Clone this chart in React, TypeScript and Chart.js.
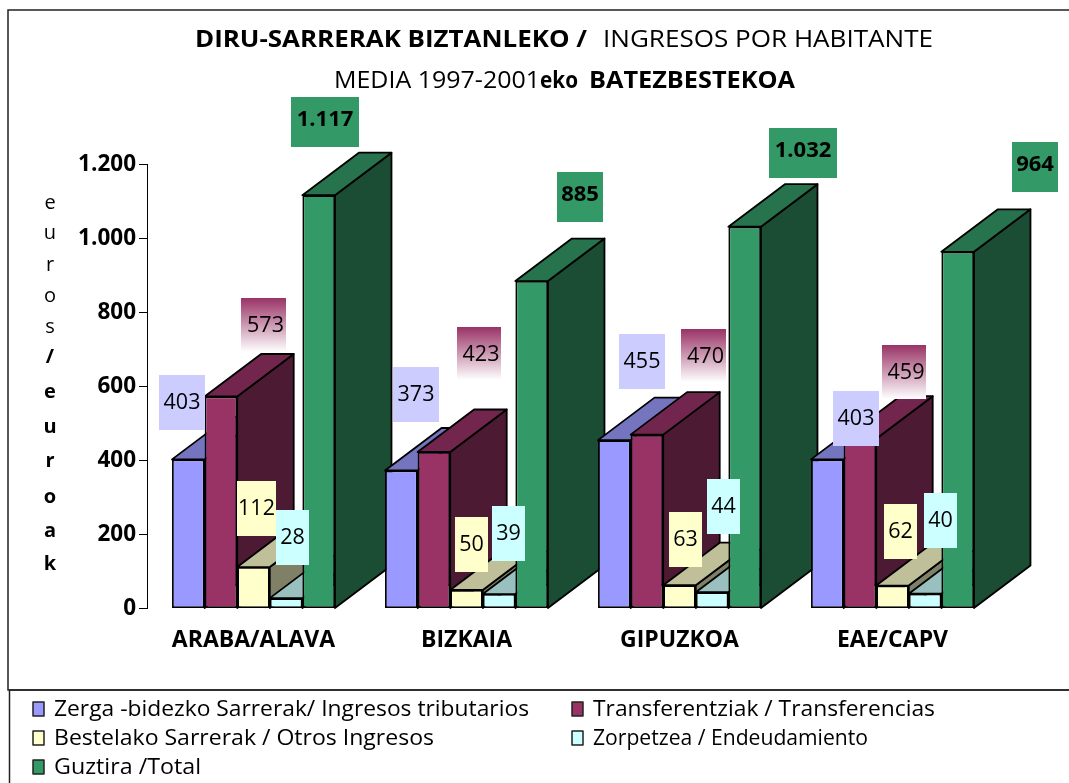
import React, { useEffect, useRef } from "react";
import { Chart, registerables } from "chart.js";

Chart.register(...registerables);

const categories = ["ARABA/ALAVA", "BIZKAIA", "GIPUZKOA", "EAE/CAPV"];
const tributarios = [403, 373, 455, 403];
const transferencias = [573, 423, 470, 459];
const otros = [112, 50, 63, 62];
const endeudamiento = [28, 39, 44, 40];
const total = [1117, 885, 1032, 964];
const yTickLabels = ["0", "200", "400", "600", "800", "1.000", "1.200"];
const seriesNames = [
  "Zerga -bidezko Sarrerak/ Ingresos tributarios",
  "Transferentziak / Transferencias",
  "Bestelako Sarrerak / Otros Ingresos",
  "Zorpetzea / Endeudamiento",
  "Guztira /Total",
];

const FONT = '"Open Sans"';
const INK = "#000000";
const series = [
  { data: tributarios, front: "#9999FF", top: "#7474BF", side: "#4D4D80" },
  { data: transferencias, front: "#993366", top: "#73264D", side: "#4D1A33" },
  { data: otros, front: "#FFFFCC", top: "#BFBF99", side: "#808066" },
  { data: endeudamiento, front: "#CCFFFF", top: "#99BFBF", side: "#668080" },
  { data: total, front: "#339966", top: "#26734D", side: "#1A4D33" },
];
const DEPTH_X = 56.5;
const DEPTH_Y = 42.5;

// value-label boxes: [series, category, left, right, top, bottom]
const labelBoxes: number[][] = [
  [0, 0, 159, 205, 375, 430],
  [1, 0, 241, 286, 298, 352],
  [2, 0, 237, 276, 481, 536],
  [3, 0, 276, 309, 510, 565],
  [4, 0, 291, 359, 97, 147],
  [0, 1, 393, 439, 367, 422],
  [1, 1, 457, 501, 327, 380],
  [2, 1, 455, 488, 517, 572],
  [3, 1, 492, 525, 506, 561],
  [4, 1, 557, 603, 172, 222],
  [0, 2, 619, 665, 334, 389],
  [1, 2, 681, 726, 329, 382],
  [2, 2, 669, 702, 512, 567],
  [3, 2, 707, 740, 479, 534],
  [4, 2, 769, 837, 128, 178],
  [0, 3, 833, 879, 391, 446],
  [1, 3, 882, 926, 345, 399],
  [2, 3, 884, 917, 504, 559],
  [3, 3, 924, 957, 493, 548],
  [4, 3, 1012, 1058, 142, 192],
];
const labelFills = ["#CCCCFF", "", "#FFFFCC", "#CCFFFF", "#339966"];

const titleRuns: [string, boolean, number, number, number][] = [
  ["DIRU-SARRERAK BIZTANLEKO /", true, 195, 587, 39],
  ["INGRESOS POR HABITANTE", false, 603, 933, 39],
  ["MEDIA 1997-2001", false, 334, 540, 80],
  ["eko", true, 540, 578, 80],
  ["BATEZBESTEKOA", true, 589, 795, 80],
];
const axisLetters: [string, boolean][] = [
  ["e", false], ["u", false], ["r", false], ["o", false], ["s", false], ["/", true],
  ["e", true], ["u", true], ["r", true], ["o", true], ["a", true], ["k", true],
];
const axisLetterY = [203, 233, 265, 296, 327, 357, 392, 427, 461, 497, 531, 564];
const legendSlots = [
  [33, 54, 529, 709],
  [572, 593, 935, 709],
  [33, 54, 434, 738],
  [572, 593, 868, 738],
  [33, 54, 201, 767],
];

function fitText(ctx: CanvasRenderingContext2D, text: string, left: number, right: number, y: number, font: string) {
  ctx.save();
  ctx.font = font;
  ctx.fillStyle = INK;
  ctx.textAlign = "left";
  ctx.textBaseline = "middle";
  const w = ctx.measureText(text).width;
  ctx.translate(left, y + 1);
  ctx.scale((right - left) / w, 1);
  ctx.fillText(text, 0, 0);
  ctx.restore();
}

function poly(ctx: CanvasRenderingContext2D, pts: number[][], fill: string) {
  ctx.beginPath();
  pts.forEach((p, i) => (i ? ctx.lineTo(p[0], p[1]) : ctx.moveTo(p[0], p[1])));
  ctx.closePath();
  ctx.fillStyle = fill;
  ctx.fill();
  ctx.lineWidth = 1.8;
  ctx.strokeStyle = INK;
  ctx.lineJoin = "round";
  ctx.stroke();
}

const bars3d = {
  id: "bars3d",
  beforeDatasetsDraw(chart: any) {
    const ctx = chart.ctx as CanvasRenderingContext2D;
    categories.forEach((_, c) => {
      series.forEach((s, d) => {
        const bar = chart.getDatasetMeta(d).data[c];
        const x0 = bar.x - bar.width / 2;
        const x1 = bar.x + bar.width / 2;
        const y = bar.y;
        const b = bar.base;
        poly(ctx, [[x1, y], [x1 + DEPTH_X, y - DEPTH_Y], [x1 + DEPTH_X, b - DEPTH_Y], [x1, b]], s.side);
        poly(ctx, [[x0, y], [x0 + DEPTH_X, y - DEPTH_Y], [x1 + DEPTH_X, y - DEPTH_Y], [x1, y]], s.top);
        bar.draw(ctx, chart.chartArea);
      });
    });
    return false;
  },
};

const decorations = {
  id: "decorations",
  beforeDraw(chart: any) {
    const ctx = chart.ctx as CanvasRenderingContext2D;
    ctx.save();
    ctx.fillStyle = "#FFFFFF";
    ctx.fillRect(0, 0, 1069, 783);
    ctx.strokeStyle = "#222222";
    ctx.lineWidth = 1.5;
    ctx.strokeRect(8, 10, 1075, 680);
    ctx.strokeRect(9.5, 690, 1075, 110);
    ctx.restore();
    titleRuns.forEach(([t, bold, l, r, y]) =>
      fitText(ctx, t, l, r, y, `${bold ? "bold " : ""}24px ${FONT}`)
    );
    axisLetters.forEach(([t, bold], i) => {
      ctx.save();
      ctx.font = `${bold ? "bold " : ""}20px ${FONT}`;
      ctx.fillStyle = INK;
      ctx.textAlign = "center";
      ctx.textBaseline = "middle";
      ctx.fillText(t, 50, axisLetterY[i]);
      ctx.restore();
    });
  },
  afterDraw(chart: any) {
    const ctx = chart.ctx as CanvasRenderingContext2D;
    labelBoxes.forEach(([d, c, l, r, t, b]) => {
      ctx.save();
      if (d === 1) {
        const g = ctx.createLinearGradient(0, t, 0, b);
        g.addColorStop(0, "#993366");
        g.addColorStop(1, "#FFFFFF");
        ctx.fillStyle = g;
      } else {
        ctx.fillStyle = labelFills[d];
      }
      ctx.fillRect(l, t, r - l, b - t);
      const value = series[d].data[c];
      const text = value >= 1000 ? `${Math.floor(value / 1000)}.${String(value % 1000).padStart(3, "0")}` : String(value);
      ctx.font = d === 4 ? `bold 22px ${FONT}` : `21.5px ${FONT}`;
      ctx.fillStyle = INK;
      ctx.textAlign = "center";
      ctx.textBaseline = "middle";
      ctx.fillText(text, (l + r) / 2 + (d === 1 ? 2 : 0), (t + b) / 2 + (d === 4 ? -2 : d === 1 ? 1 : 0));
      ctx.restore();
    });
    series.forEach((s, i) => {
      const [sx, tl, tr, y] = legendSlots[i];
      ctx.save();
      ctx.fillStyle = s.front;
      ctx.strokeStyle = "#222222";
      ctx.lineWidth = 1.5;
      ctx.fillRect(sx, y - 7, 11, 14);
      ctx.strokeRect(sx, y - 7, 11, 14);
      ctx.restore();
      fitText(ctx, seriesNames[i], tl, tr, y, `21px ${FONT}`);
    });
  },
};

export default function App() {
  const ref = useRef<HTMLCanvasElement>(null);
  useEffect(() => {
    const chart = new Chart(ref.current as HTMLCanvasElement, {
      type: "bar",
      data: {
        labels: categories,
        datasets: series.map((s, i) => ({
          label: seriesNames[i],
          data: s.data,
          backgroundColor: s.front,
          borderColor: INK,
          borderWidth: 1.8,
          borderSkipped: false,
          barPercentage: 1,
          categoryPercentage: 0.765,
        })),
      } as any,
      options: {
        animation: false,
        responsive: false,
        layout: { padding: { left: 47, right: 70, top: 164.5, bottom: 114.5 } },
        plugins: { legend: { display: false }, title: { display: false }, tooltip: { enabled: false } },
        scales: {
          x: {
            grid: { display: false, drawTicks: false },
            border: { display: false },
            afterFit: (s: any) => { s.height = 60; },
            ticks: {
              color: INK,
              padding: 18,
              maxRotation: 0,
              font: { family: "Open Sans", size: 23, weight: "bold" },
            },
          },
          y: {
            min: 0,
            max: 1200,
            afterFit: (s: any) => { s.width = 100; },
            grid: { drawOnChartArea: false, tickLength: 8, color: INK },
            border: { color: INK, width: 1 },
            ticks: {
              stepSize: 200,
              color: INK,
              padding: 3,
              font: { family: "Open Sans", size: 22.5, weight: "bold" },
              callback: (_: any, i: number) => yTickLabels[i],
            },
          },
        },
      } as any,
      plugins: [decorations, bars3d],
    });
    return () => chart.destroy();
  }, []);
  return (
    <div style={{ position: "fixed", left: 0, top: 0, width: 1069, height: 783, overflow: "hidden", background: "#fff" }}>
      <canvas ref={ref} width={1069} height={783} style={{ display: "block" }} />
    </div>
  );
}
